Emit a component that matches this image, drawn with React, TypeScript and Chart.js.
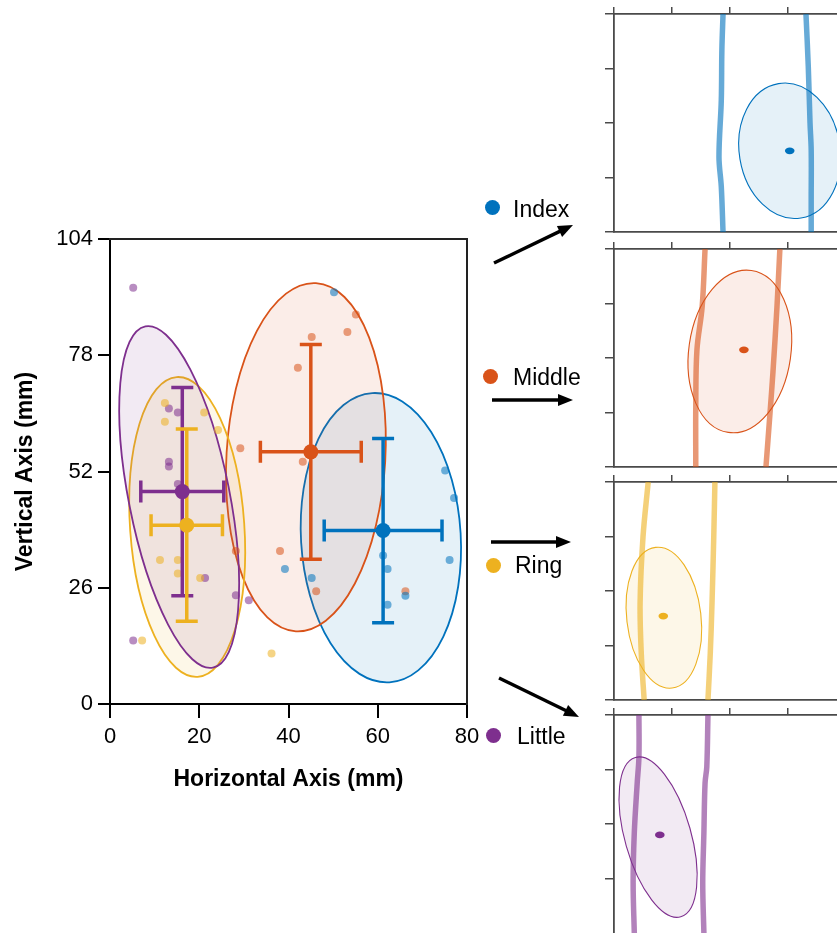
import React, { useEffect, useRef } from "react";
import { Chart, registerables } from "chart.js";

Chart.register(...registerables);

const FONT = "'Liberation Sans', Arial, Helvetica, sans-serif";

// ---------------- data: main chart ----------------
const fingers = ["Index", "Middle", "Ring", "Little"];
const fingerRGB = [
  [0, 114, 189],
  [217, 83, 25],
  [237, 177, 32],
  [126, 47, 142],
];

const xTickValues = [0, 20, 40, 60, 80];
const yTickValues = [0, 26, 52, 78, 104];

const indexPoints = [[50.2, 92.1], [39.2, 30.2], [75.1, 52.2], [77.1, 46.1], [61.2, 33.2], [62.2, 30.2], [76.1, 32.2], [45.2, 28.2], [66.2, 24.2], [62.2, 22.2]];
const middlePoints = [[29.2, 57.2], [42.1, 75.2], [55.1, 87.1], [53.2, 83.2], [45.2, 82.1], [28.2, 34.2], [38.1, 34.2], [43.2, 54.2], [46.2, 25.2], [66.2, 25.2]];
const ringPoints = [[12.3, 67.3], [12.3, 63.1], [21.1, 65.2], [24.2, 61.3], [11.2, 32.2], [15.2, 32.2], [15.2, 29.2], [20.2, 28.2], [7.2, 14.2], [36.2, 11.3]];
const littlePoints = [[5.2, 93.1], [13.2, 66.1], [15.2, 65.2], [13.2, 54.2], [13.2, 53.1], [15.2, 49.2], [21.3, 28.2], [28.2, 24.3], [31.1, 23.2], [5.2, 14.2]];
const fingerPoints = [indexPoints, middlePoints, ringPoints, littlePoints];

const meanX = [61.2, 45.0, 17.2, 16.2];
const meanY = [38.8, 56.4, 40.0, 47.5];
const sdX = [13.2, 11.3, 8.0, 9.3];
const sdY = [20.6, 24.0, 21.5, 23.3];

// confidence ellipses (data units; tilt in degrees)
const ellipseCx = [60.7, 43.9, 17.3, 15.5];
const ellipseCy = [37.2, 55.2, 39.6, 46.3];
const ellipseRx = [17.9, 17.8, 12.8, 11.3];
const ellipseRy = [32.4, 39.0, 33.6, 38.9];
const ellipseTilt = [-3.4, 3.3, -4.0, -11.2];

// ---------------- data: finger panels ----------------
const panelXTicks = [0, 1, 2, 3];
const panelYTicks = [0, 1, 2, 3, 4];
const panelXMax = 3.845;
const panelYMax = 4;

const indexEdgeA = [[1.88, 4.0], [1.86, 3.34], [1.85, 2.42], [1.81, 1.38], [1.85, 0.83], [1.88, 0]];
const indexEdgeB = [[3.31, 4.0], [3.35, 3.03], [3.38, 2.0], [3.4, 1.51], [3.4, 0.59], [3.4, 0]];
const middleEdgeA = [[1.57, 4.0], [1.52, 2.94], [1.43, 2.15], [1.41, 1.1], [1.41, 0]];
const middleEdgeB = [[2.86, 4.0], [2.81, 2.94], [2.74, 1.73], [2.69, 0.99], [2.62, 0]];
const ringEdgeA = [[0.59, 4.0], [0.5, 2.99], [0.45, 1.78], [0.47, 0.86], [0.52, 0]];
const ringEdgeB = [[1.74, 4.0], [1.72, 2.99], [1.69, 1.78], [1.66, 0.86], [1.62, 0]];
const littleEdgeA = [[0.43, 4.0], [0.43, 3.23], [0.4, 2.75], [0.35, 1.84], [0.33, 0.92], [0.35, 0]];
const littleEdgeB = [[1.62, 4.0], [1.6, 3.05], [1.57, 2.75], [1.55, 1.84], [1.53, 0.92], [1.55, 0]];
const panelEdges = [
  [indexEdgeA, indexEdgeB],
  [middleEdgeA, middleEdgeB],
  [ringEdgeA, ringEdgeB],
  [littleEdgeA, littleEdgeB],
];

const panelCx = [3.03, 2.17, 0.86, 0.76];
const panelCy = [1.49, 2.12, 1.51, 1.76];
const panelRx = [0.87, 0.88, 0.64, 0.57];
const panelRy = [1.25, 1.5, 1.3, 1.52];
const panelTilt = [-9.5, 8.1, -6.7, -15.9];
const panelMx = [3.03, 2.24, 0.85, 0.79];
const panelMy = [1.49, 2.15, 1.54, 1.8];

// ---------------- layout ----------------
const PANEL_TOPS = [14, 249, 482, 715];
const PANEL_H = 218;
const PANEL_LEFT = 614;
const PANEL_RIGHT = 837;

const legendDots = [[492, 207], [490, 376], [493, 565], [493, 735]];
const legendTextX = [513, 513, 515, 517];
const legendBaseline = [217, 385, 573, 744];
const arrowFrom = [[494, 263], [492, 400], [491, 542], [499, 678]];
const arrowTo = [[573, 225], [573, 400], [571, 542], [579, 717]];

const rgba = (i: number, a: number) => `rgba(${fingerRGB[i][0]},${fingerRGB[i][1]},${fingerRGB[i][2]},${a})`;

function drawEllipse(ctx: any, xs: any, ys: any, cx: number, cy: number, rx: number, ry: number, tilt: number, i: number, lw: number) {
  const px = xs.getPixelForValue(cx);
  const py = ys.getPixelForValue(cy);
  const rxp = Math.abs(xs.getPixelForValue(cx + rx) - px);
  const ryp = Math.abs(ys.getPixelForValue(cy + ry) - py);
  ctx.beginPath();
  ctx.ellipse(px, py, rxp, ryp, (tilt * Math.PI) / 180, 0, Math.PI * 2);
  ctx.fillStyle = rgba(i, 0.1);
  ctx.fill();
  ctx.strokeStyle = rgba(i, 1);
  ctx.lineWidth = lw;
  ctx.stroke();
}

function clipArea(ctx: any, a: any) {
  ctx.beginPath();
  ctx.rect(a.left, a.top, a.right - a.left, a.bottom - a.top);
  ctx.clip();
}

const mainDecor = {
  id: "mainDecor",
  beforeDatasetsDraw(chart: any) {
    const { ctx, chartArea, scales } = chart;
    ctx.save();
    clipArea(ctx, chartArea);
    for (let i = 0; i < 4; i++) {
      drawEllipse(ctx, scales.x, scales.y, ellipseCx[i], ellipseCy[i], ellipseRx[i], ellipseRy[i], ellipseTilt[i], i, 1.8);
    }
    ctx.restore();
  },
  afterDatasetsDraw(chart: any) {
    const { ctx, scales } = chart;
    const xs = scales.x;
    const ys = scales.y;
    const order = [0, 1, 3, 2];
    const cap = 11;
    ctx.save();
    for (const i of order) {
      const cx = xs.getPixelForValue(meanX[i]);
      const cy = ys.getPixelForValue(meanY[i]);
      const x0 = xs.getPixelForValue(meanX[i] - sdX[i]);
      const x1 = xs.getPixelForValue(meanX[i] + sdX[i]);
      const y0 = ys.getPixelForValue(meanY[i] - sdY[i]);
      const y1 = ys.getPixelForValue(meanY[i] + sdY[i]);
      ctx.strokeStyle = rgba(i, 1);
      ctx.lineWidth = 3.5;
      ctx.lineCap = "butt";
      ctx.beginPath();
      ctx.moveTo(x0, cy);
      ctx.lineTo(x1, cy);
      ctx.moveTo(cx, y0);
      ctx.lineTo(cx, y1);
      ctx.moveTo(x0, cy - cap);
      ctx.lineTo(x0, cy + cap);
      ctx.moveTo(x1, cy - cap);
      ctx.lineTo(x1, cy + cap);
      ctx.moveTo(cx - cap, y0);
      ctx.lineTo(cx + cap, y0);
      ctx.moveTo(cx - cap, y1);
      ctx.lineTo(cx + cap, y1);
      ctx.stroke();
    }
    for (const i of order) {
      const cx = xs.getPixelForValue(meanX[i]);
      const cy = ys.getPixelForValue(meanY[i]);
      ctx.beginPath();
      ctx.arc(cx, cy, 7.5, 0, Math.PI * 2);
      ctx.fillStyle = rgba(i, 1);
      ctx.fill();
    }
    ctx.restore();
  },
};

function MainChart() {
  const ref = useRef<HTMLCanvasElement>(null);
  useEffect(() => {
    const chart = new Chart(ref.current as HTMLCanvasElement, {
      type: "scatter",
      data: {
        datasets: fingerPoints.map((pts, i) => ({
          label: fingers[i],
          data: pts.map(([x, y]) => ({ x, y })),
          backgroundColor: rgba(i, 0.55),
          borderWidth: 0,
          pointRadius: 4,
          pointHoverRadius: 4,
        })),
      },
      options: {
        responsive: false,
        animation: false,
        devicePixelRatio: 1,
        events: [],
        layout: { padding: { left: 0, top: 39, right: 23, bottom: 0 } },
        plugins: { legend: { display: false }, tooltip: { enabled: false } },
        scales: {
          x: {
            type: "linear",
            position: "bottom",
            min: 0,
            max: 80,
            afterBuildTicks: (s: any) => {
              s.ticks = xTickValues.map((v) => ({ value: v }));
            },
            ticks: { font: { family: FONT, size: 22 }, color: "#000", padding: 6, maxRotation: 0, autoSkip: false },
            grid: { drawOnChartArea: false, tickLength: 14, color: "#000", lineWidth: 2 },
            border: { color: "#000", width: 2 },
            title: {
              display: true,
              text: "Horizontal Axis (mm)",
              color: "#000",
              font: { family: FONT, size: 23, weight: "bold" },
              padding: { top: 0, bottom: 7 },
            },
            afterFit: (s: any) => {
              s.height = 96;
            },
          },
          y: {
            type: "linear",
            position: "left",
            min: 0,
            max: 104,
            afterBuildTicks: (s: any) => {
              s.ticks = yTickValues.map((v) => ({ value: v }));
            },
            ticks: { font: { family: FONT, size: 22 }, color: "#000", padding: 5, autoSkip: false },
            grid: { drawOnChartArea: false, tickLength: 12, color: "#000", lineWidth: 2 },
            border: { color: "#000", width: 2 },
            title: {
              display: true,
              text: "Vertical Axis (mm)",
              color: "#000",
              font: { family: FONT, size: 23, weight: "bold" },
              padding: { top: 12, bottom: 0 },
            },
            afterFit: (s: any) => {
              s.width = 110;
            },
          },
          xTop: {
            type: "linear",
            position: "top",
            min: 0,
            max: 80,
            display: true,
            grid: { display: false },
            ticks: { display: false },
            border: { display: true, color: "#222", width: 2 },
            afterFit: (s: any) => {
              s.height = 0;
            },
          },
          yRight: {
            type: "linear",
            position: "right",
            min: 0,
            max: 104,
            display: true,
            grid: { display: false },
            ticks: { display: false },
            border: { display: true, color: "#222", width: 2 },
            afterFit: (s: any) => {
              s.width = 0;
            },
          },
        },
      } as any,
      plugins: [mainDecor],
    });
    return () => chart.destroy();
  }, []);
  return <canvas ref={ref} width={490} height={600} style={{ position: "absolute", left: 0, top: 200 }} />;
}

function makePanelDecor(i: number) {
  return {
    id: "panelDecor" + i,
    beforeDatasetsDraw(chart: any) {
      const { ctx, chartArea, scales } = chart;
      ctx.save();
      clipArea(ctx, chartArea);
      drawEllipse(ctx, scales.x, scales.y, panelCx[i], panelCy[i], panelRx[i], panelRy[i], panelTilt[i], i, 1.1);
      ctx.restore();
    },
    afterDatasetsDraw(chart: any) {
      const { ctx, chartArea, scales } = chart;
      ctx.save();
      clipArea(ctx, chartArea);
      ctx.beginPath();
      ctx.ellipse(scales.x.getPixelForValue(panelMx[i]), scales.y.getPixelForValue(panelMy[i]), 4.8, 3.4, 0, 0, Math.PI * 2);
      ctx.fillStyle = rgba(i, 1);
      ctx.fill();
      ctx.restore();
    },
  };
}

function Panel({ i }: { i: number }) {
  const ref = useRef<HTMLCanvasElement>(null);
  const PAD = 12;
  const left = 600;
  const top = PANEL_TOPS[i] - PAD;
  const W = PANEL_RIGHT - left;
  const H = PANEL_H + 2 * PAD;
  const lastPanel = i === PANEL_TOPS.length - 1;
  useEffect(() => {
    const axisColor = "#4a4a4a";
    const chart = new Chart(ref.current as HTMLCanvasElement, {
      type: "scatter",
      data: {
        datasets: panelEdges[i].map((edge) => ({
          data: edge.map(([x, y]) => ({ x, y })),
          showLine: true,
          borderColor: rgba(i, 0.6),
          borderWidth: 5.5,
          pointRadius: 0,
          pointHoverRadius: 0,
          tension: 0.35,
          clip: 0,
        })),
      },
      options: {
        responsive: false,
        animation: false,
        devicePixelRatio: 1,
        events: [],
        layout: { padding: 0 },
        plugins: { legend: { display: false }, tooltip: { enabled: false } },
        scales: {
          x: {
            type: "linear",
            position: "top",
            min: 0,
            max: panelXMax,
            afterBuildTicks: (s: any) => {
              s.ticks = panelXTicks.map((v) => ({ value: v }));
            },
            ticks: { display: false },
            grid: { drawOnChartArea: false, tickLength: 7, color: axisColor, lineWidth: 1.5 },
            border: { color: axisColor, width: 1.8 },
            afterFit: (s: any) => {
              s.height = PAD;
            },
          },
          xBottom: {
            type: "linear",
            position: "bottom",
            min: 0,
            max: panelXMax,
            display: true,
            ticks: { display: false },
            grid: { display: false },
            border: { display: !lastPanel, color: axisColor, width: 1.8 },
            afterFit: (s: any) => {
              s.height = PAD;
            },
          },
          y: {
            type: "linear",
            position: "left",
            min: 0,
            max: panelYMax,
            afterBuildTicks: (s: any) => {
              s.ticks = (lastPanel ? panelYTicks.slice(1) : panelYTicks).map((v) => ({ value: v }));
            },
            ticks: { display: false },
            grid: { drawOnChartArea: false, tickLength: 9, color: axisColor, lineWidth: 1.5 },
            border: { color: axisColor, width: 1.8 },
            afterFit: (s: any) => {
              s.width = PANEL_LEFT - left;
            },
          },
        },
      } as any,
      plugins: [makePanelDecor(i)],
    });
    return () => chart.destroy();
  }, []);
  return <canvas ref={ref} width={W} height={H} style={{ position: "absolute", left, top }} />;
}

function Arrows() {
  const head = 15;
  const halfW = 6;
  return (
    <svg width={837} height={933} style={{ position: "absolute", left: 0, top: 0, pointerEvents: "none" }}>
      {arrowFrom.map(([x0, y0], k) => {
        const [x1, y1] = arrowTo[k];
        const dx = x1 - x0;
        const dy = y1 - y0;
        const len = Math.hypot(dx, dy);
        const ux = dx / len;
        const uy = dy / len;
        const bx = x1 - ux * head;
        const by = y1 - uy * head;
        const pts = `${x1},${y1} ${bx - uy * halfW},${by + ux * halfW} ${bx + uy * halfW},${by - ux * halfW}`;
        return (
          <g key={k}>
            <line x1={x0} y1={y0} x2={bx + ux * 2} y2={by + uy * 2} stroke="#000" strokeWidth={3.4} />
            <polygon points={pts} fill="#000" />
          </g>
        );
      })}
    </svg>
  );
}

function Legend() {
  return (
    <>
      {fingers.map((name, i) => (
        <React.Fragment key={name}>
          <div
            style={{
              position: "absolute",
              left: legendDots[i][0] - 7.5,
              top: legendDots[i][1] - 7.5,
              width: 15,
              height: 15,
              borderRadius: "50%",
              background: rgba(i, 1),
            }}
          />
          <div
            style={{
              position: "absolute",
              left: legendTextX[i],
              top: legendBaseline[i] - 19.5,
              fontFamily: FONT,
              fontSize: 23,
              lineHeight: "23px",
              color: "#000",
              whiteSpace: "nowrap",
            }}
          >
            {name}
          </div>
        </React.Fragment>
      ))}
    </>
  );
}

export default function App() {
  return (
    <div style={{ position: "absolute", left: 0, top: 0, width: 837, height: 933, overflow: "hidden", background: "#fff" }}>
      <MainChart />
      {[0, 1, 2, 3].map((i) => (
        <Panel key={i} i={i} />
      ))}
      <Legend />
      <Arrows />
    </div>
  );
}
